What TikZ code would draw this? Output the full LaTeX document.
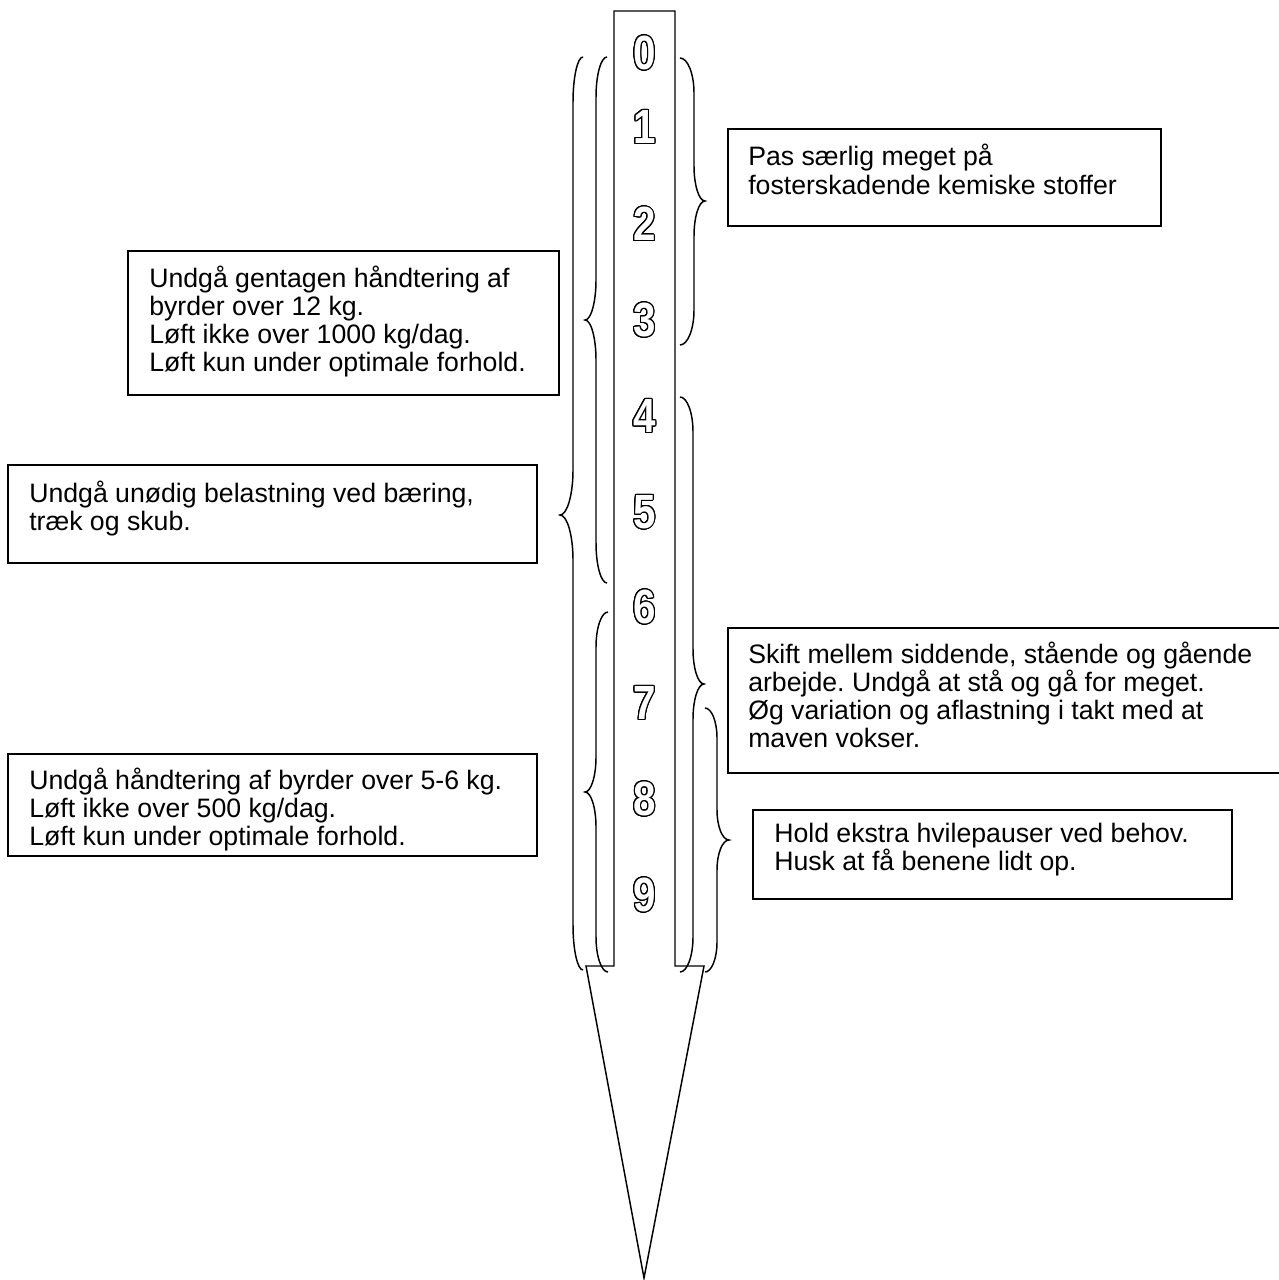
\documentclass[tikz,border=0pt]{standalone}
\usepackage{fontspec}
\usepackage{graphicx}
\setmainfont{Liberation Sans}
\usetikzlibrary{fit}
\frenchspacing
\newlength\olw
\setlength\olw{0.85pt}
\newcommand\outdig[1]{%
  \foreach \ang in {0,15,...,345}{%
    \pgfmathsetlengthmacro\odx{\olw*cos(\ang)}%
    \pgfmathsetlengthmacro\ody{\olw*sin(\ang)}%
    \rlap{\hspace*{\odx}\raisebox{\ody}{\textcolor{black}{#1}}}}%
  \textcolor{white}{#1}}
% xe, xm, xp, ytop, ypoint, ybot, r
\newcommand\wordbrace[7]{%
  \draw[brc] (#1,#4) .. controls ({#1+0.55*(#2-#1)},#4) and (#2,{#4+0.45*#7}) .. (#2,{#4+#7})
    -- (#2,{#5-#7})
    .. controls (#2,{#5-0.45*#7}) and ({#3-0.55*(#3-#2)},#5) .. (#3,#5)
    .. controls ({#3-0.55*(#3-#2)},#5) and (#2,{#5+0.45*#7}) .. (#2,{#5+#7})
    -- (#2,{#6-#7})
    .. controls (#2,{#6-0.45*#7}) and ({#1+0.55*(#2-#1)},#6) .. (#1,#6);}
\tikzset{
  brc/.style={line width=1.1pt},
  box/.style={draw, line width=1.1pt, inner sep=0pt},
  txt/.style={inner sep=0pt, anchor=base west, font=\fontsize{20}{21.2}\selectfont\frenchspacing},
  digit/.style={inner sep=0pt, font=\fontsize{36}{36}\selectfont\bfseries},
  shaft/.style={draw, line width=1.1pt, line join=miter}
}
\newcommand\lines[1]{\parbox[t]{560pt}{\raggedright\frenchspacing #1}}
\begin{document}
\begin{tikzpicture}[x=0.75pt,y=-0.75pt]
\useasboundingbox (0,0) rectangle (1278,1280);
\fill[white] (0,0) rectangle (1278,1280);
% arrow shaft
\draw[shaft] (614,11) -- (675,11) -- (675,966) -- (704,966) -- (644,1278) -- (586,966) -- (614,966) -- cycle;
% digits
\foreach \d/\y in {0/53,1/127,2/224,3/320,4/416,5/512,6/607,7/703,8/799,9/895}{
  \node[digit] (d\d) at (644.5,\y) {\scalebox{0.84}[1]{\outdig{\d}}};
}
% left braces
\wordbrace{583}{573}{560}{57}{515}{970}{45}
\wordbrace{607}{596}{585}{57}{320}{583}{40}
\wordbrace{608}{596}{585}{612}{792}{972}{35}
% right braces
\wordbrace{680}{694}{705}{58}{201}{345}{35}
\wordbrace{680}{693}{704}{397}{684}{972}{35}
\wordbrace{705}{717}{729}{708}{840}{972}{30}
% boxes
\node[box, fit={(728,129) (1161,226)}] (b1) {};
\node[box, fit={(128,251) (559,395)}] (b2) {};
\node[box, fit={(8,465) (537,563)}] (b3) {};
\node[box, fit={(728,628) (1290,773)}] (b4) {};
\node[box, fit={(8,754) (537,856)}] (b5) {};
\node[box, fit={(753,810) (1232,899)}] (b6) {};
% texts
\node[txt] (t1) at (748,166) {\lines{Pas særlig meget på\\fosterskadende kemiske stoffer}};
\node[txt] (t2) at (149,287) {\lines{Undgå gentagen håndtering af\\byrder over 12 kg.\\Løft ikke over 1000 kg/dag.\\Løft kun under optimale forhold.}};
\node[txt] (t3) at (29,502) {\lines{Undgå unødig belastning ved bæring,\\træk og skub.}};
\node[txt] (t4) at (748,663) {\lines{Skift mellem siddende, stående og gående\\arbejde. Undgå at stå og gå for meget.\\Øg variation og aflastning i takt med at\\maven vokser.}};
\node[txt] (t5) at (29,789) {\lines{Undgå håndtering af byrder over 5-6 kg.\\Løft ikke over 500 kg/dag.\\Løft kun under optimale forhold.}};
\node[txt] (t6) at (774,842) {\lines{Hold ekstra hvilepauser ved behov.\\Husk at få benene lidt op.}};
\end{tikzpicture}
\end{document}
